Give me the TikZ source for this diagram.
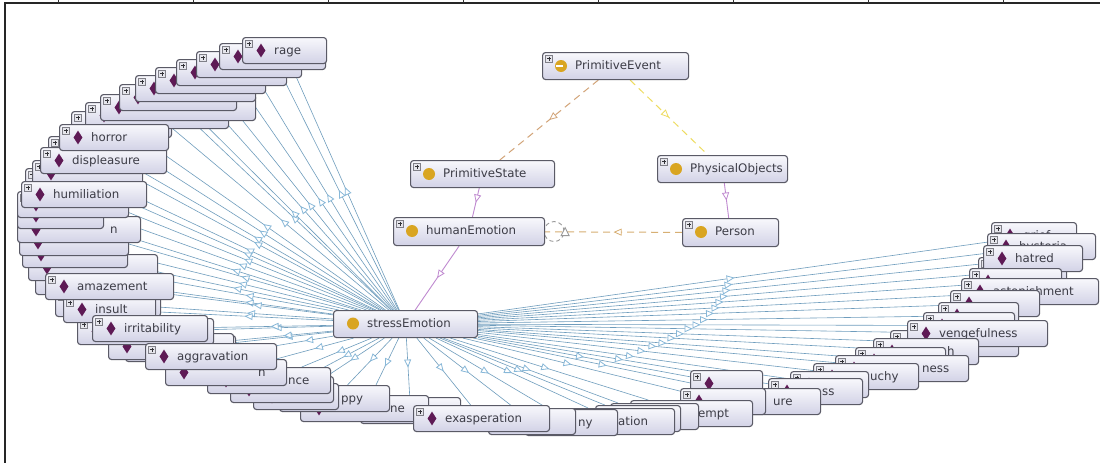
\documentclass[tikz,border=0pt]{standalone}
\usepackage{fontspec}
\setmainfont{DejaVu Sans}
\usetikzlibrary{arrows.meta,decorations.markings,shapes.geometric}

\definecolor{boxline}{HTML}{5A5A66}
\definecolor{boxtop}{HTML}{F8F8FC}
\definecolor{boxbot}{HTML}{D2D2E6}
\definecolor{gold}{HTML}{D9A521}
\definecolor{plum}{HTML}{5E1A55}
\definecolor{edgeblue}{HTML}{6F9DBD}
\definecolor{tipblue}{HTML}{88B8D8}
\definecolor{lilac}{HTML}{C08AD0}
\definecolor{tan}{HTML}{D2A478}
\definecolor{straw}{HTML}{EEDC60}
\definecolor{txt}{HTML}{3C3C46}
\definecolor{plusfill}{HTML}{E6E6EC}
\definecolor{plusedge}{HTML}{808088}
\definecolor{plusmark}{HTML}{333338}

\pgfdeclarelayer{bg}
\pgfdeclarelayer{edges}
\pgfsetlayers{bg,edges,main}

\tikzset{
  ibox/.style={draw=boxline, line width=1.1pt, rounded corners=3pt,
    top color=boxtop, bottom color=boxbot, minimum height=26pt,
    inner sep=0pt, anchor=north west},
  gem/.style={diamond, fill=plum, minimum width=9pt, minimum height=14pt, inner sep=0pt},
  dot/.style={circle, fill=gold, minimum size=12pt, inner sep=0pt},
  lbl/.style={anchor=base west, inner sep=0pt, text=txt, font=\fontsize{11.8}{14}\selectfont},
  midtri/.style={postaction=decorate, decoration={markings,
    mark=at position 0.5 with {\arrow{Triangle[length=8pt,width=7pt,color=#1,fill=white,line width=0.8pt]}}}},
  isa/.style={draw=edgeblue, line width=0.6pt, midtri=tipblue},
  dashlink/.style={line width=1pt, dash pattern=on 7pt off 5pt},
}

% plus icon in the top left corner of a box
\newcommand\plusicon{%
  \filldraw[fill=plusfill, draw=plusedge, line width=0.5pt] (3.5,3) rectangle (10.5,10);
  \draw[plusmark, line width=0.9pt] (5,6.5) -- (9,6.5) (7,4.5) -- (7,8.5);}

% individual: [label offset] name, x, y, width, label
\newcommand\indiv[6][32]{%
  \node[ibox, minimum width=#5pt] (#2) at (#3,#4) {};
  \begin{scope}[shift={(#3,#4)}]
    \plusicon
    \node[gem] at (19,13.5) {};
    \node[lbl] at (#1,17.5) {#6};
  \end{scope}}

% class: name, x, y, width, height, label
\newcommand\cls[6]{%
  \node[ibox, minimum width=#4pt, minimum height=#5pt] (#1) at (#2,#3) {};
  \begin{scope}[shift={(#2,#3)}]
    \plusicon
    \node[dot] at (19,14) {};
    \node[lbl] at (33,17.5) {#6};
  \end{scope}}

\begin{document}
\begin{tikzpicture}[x=1pt,y=-1pt]
\useasboundingbox (0,0) rectangle (1100,463);
\begin{pgfonlayer}{bg}
  \fill[white] (0,0) rectangle (1100,463);
\end{pgfonlayer}

% frame
\draw[line width=2pt, black!85] (5,3) -- (1100,3);
\draw[line width=2pt, black!85] (5,2) -- (5,463);
\foreach \x in {58,193,328,463,598,733,868,1003}
  \draw[line width=0.8pt, black!80] (\x,0) -- (\x,3);

% classes
\cls{pe}{542}{52}{146}{27}{PrimitiveEvent}
\draw[white, line width=1.3pt] (555.5,66) -- (562.5,66);
\cls{ps}{410}{160}{144}{27}{PrimitiveState}
\cls{po}{657}{155}{130}{27}{PhysicalObjects}
\cls{he}{393}{217}{151}{28}{humanEmotion}
\cls{person}{682}{218}{96}{28}{Person}
\node[ibox, minimum width=144pt, minimum height=27pt] (se) at (333,310) {};
\node[dot] at (353,323.5) {};
\node[lbl] at (367,327.5) {stressEmotion};

% individuals, right arc
\indiv{g1}{991}{222}{85}{grief}
\indiv{g2}{987}{233}{108}{hysteria}
\indiv{g4}{978}{257}{88}{}
\indiv{g3}{983}{245}{99}{hatred}
\indiv{g5}{969}{268}{92}{}
\indiv{g6}{961}{278}{137}{astonishment}
\indiv{g7}{950}{290}{89}{}
\indiv{g8}{938}{302}{80}{}
\indiv{g9}{923}{312}{91}{}
\indiv{g11}{890}{330}{128}{}
\indiv{g10}{907}{320}{140}{vengefulness}
\indiv[74]{g12}{873}{338}{105}{h}
\indiv{g13}{855}{347}{90}{}
\indiv[87]{g14}{835}{355}{133}{ness}
\indiv[57]{g15}{813}{363}{105}{uchy}
\indiv{g16}{790}{371}{78}{}
\indiv[54]{g17}{768}{378}{94}{ss}
\indiv[33]{g18}{740}{388}{80}{ure}
% bottom
\indiv{h1}{690}{370}{72}{}
\indiv{h2}{680}{388}{85}{}
\indiv[68]{h3}{630}{400}{122}{empt}
\indiv{h4}{610}{403}{88}{}
\indiv{h5}{595}{405}{85}{}
\indiv[58]{h6}{560}{408}{114}{ation}
\indiv[53]{h7}{525}{409}{92}{ny}
\indiv{h8}{488}{408}{87}{}
\indiv{h9}{360}{397}{100}{}
\indiv[90]{h10}{300}{395}{128}{ne}
\indiv{exas}{413}{405}{136}{exasperation}
\indiv[62]{h11}{279}{385}{110}{ppy}
% left arc
\indiv{c1}{253}{383}{85}{}
\indiv{c2}{230}{376}{103}{}
\indiv[81]{nce}{207}{367}{123}{nce}
\indiv[93]{c3}{165}{359}{121}{n}
\indiv{c5}{125}{335}{110}{}
\indiv{c6}{108}{333}{125}{}
\indiv{c7}{77}{318}{136}{}
\indiv{aggr}{145}{343}{131}{aggravation}
\indiv{c8}{55}{290}{105}{}
\indiv{ins}{63}{296}{92}{insult}
\indiv{irr}{92}{315}{115}{irritability}
\indiv{m7}{35}{268}{122}{}
\indiv{m6}{28}{254}{129}{}
\indiv{amaz}{45}{273}{128}{amazement}
\indiv{m5}{22}{241}{105}{}
\indiv{m4}{19}{229}{109}{}
\indiv[93]{m3}{17}{216}{123}{n}
\indiv{m2}{17}{202}{86}{}
\indiv{m1}{17}{191}{111}{}
\indiv{t15}{25}{168}{115}{}
\indiv{t14}{32}{160}{110}{}
\indiv{humi}{21}{181}{125}{humiliation}
\indiv{t12}{48}{136}{110}{}
\indiv{disp}{40}{147}{126}{displeasure}
\indiv{t10}{71}{111}{100}{}
\indiv{t9}{85}{102}{143}{}
\indiv{horr}{59}{124}{109}{horror}
\indiv{t8}{100}{94}{155}{}
\indiv{t7}{119}{84}{117}{}
\indiv{t6}{135}{75}{120}{}
\indiv{t5}{155}{67}{110}{}
\indiv{t4}{176}{59}{110}{}
\indiv{t3}{196}{51}{105}{}
\indiv{t2}{219}{43}{106}{}
\indiv{rage}{242}{37}{84}{rage}

\begin{pgfonlayer}{edges}
  \foreach \n in {g1,g2,g3,g4,g5,g6,g7,g8,g9,g10,g11,g12,g13,g14,g15,g16,g17,g18,
                  h1,h2,h3,h4,h5,h6,h7,h8,h9,h10,h11,exas,
                  c1,c2,nce,c3,c5,c6,c7,aggr,c8,ins,irr,
                  m1,m2,m3,m4,m5,m6,m7,amaz,
                  t2,t3,t4,t5,t6,t7,t8,t9,t10,t12,t14,t15,humi,disp,horr,rage}
    \draw[isa] (se) -- (\n);
  \draw[tan, dashlink, midtri=tan] (pe) -- (ps);
  \draw[straw, dashlink, midtri=straw] (pe) -- (po);
  \draw[lilac, line width=0.9pt, midtri=lilac] (ps) -- (he);
  \draw[lilac, line width=0.9pt, midtri=lilac] (po) -- (person);
  \draw[tan!80!straw, dashlink, midtri=tan!80!straw] (person) -- (he);
  \draw[lilac, line width=0.9pt, midtri=lilac] (he) -- (se);
  \draw[gray!80, line width=0.9pt, dash pattern=on 4pt off 3pt]
    ([xshift=9pt]he.east) circle[radius=10pt];
  \draw[gray!80, line width=0.9pt, fill=white]
    ([xshift=16pt,yshift=-4pt]he.east) -- ([xshift=20pt,yshift=4pt]he.east)
    -- ([xshift=24pt,yshift=-4pt]he.east) -- cycle;
\end{pgfonlayer}
\end{tikzpicture}
\end{document}
